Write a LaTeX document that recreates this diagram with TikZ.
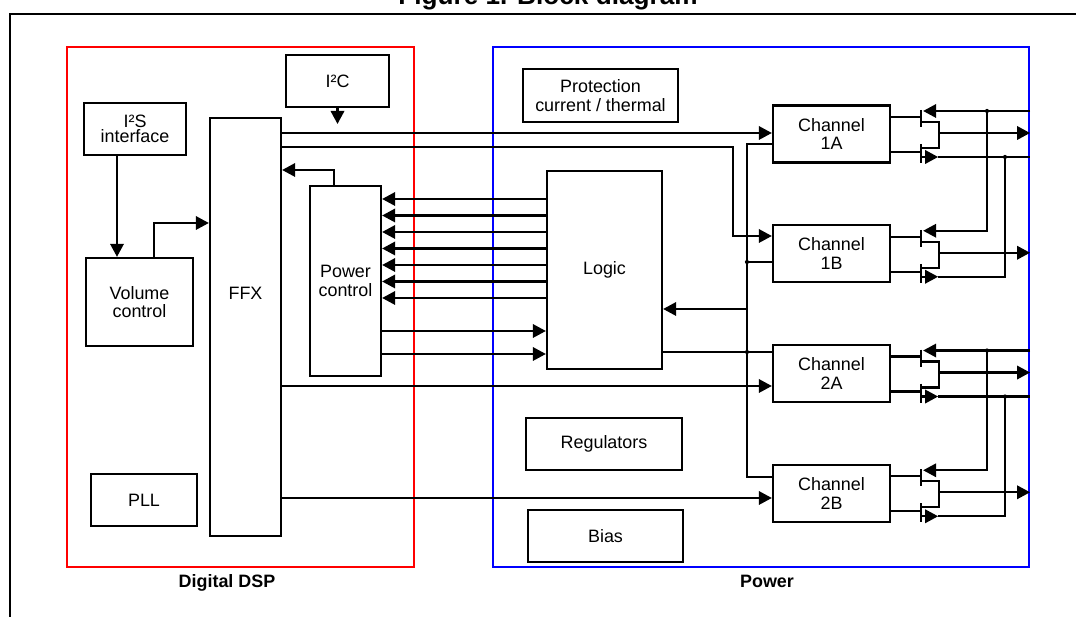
\documentclass[tikz,border=0pt]{standalone}
\usepackage{fontspec}
\setmainfont{Liberation Sans}
\usetikzlibrary{positioning,arrows.meta,calc}

\begin{document}
\begin{tikzpicture}[
    x=0.02cm, y=-0.02cm,
    line width=1.3pt,
    node distance=1.21cm,
    block/.style={rectangle, draw, inner sep=0pt, align=center, font=\fontsize{10.2}{10.6}\selectfont},
    group/.style={rectangle, draw, inner sep=0pt, minimum height=10.4cm},
    chan/.style={block, minimum width=2.34cm, minimum height=1.14cm},
    arrow/.style={-{Triangle[length=7.4pt,width=7.6pt]}},
    grouplabel/.style={anchor=base, font=\fontsize{10.2}{12}\selectfont\bfseries},
    every label/.style={font=\fontsize{10.2}{10.6}\selectfont}
]
\useasboundingbox (0,0) rectangle (1076,617);

% Page frame and caption
\coordinate (frametl) at (10,14);
\draw (frametl -| 1080,0) -- (frametl) -- (frametl |- 0,622);
\node[anchor=base, font=\fontsize{14.9}{16}\selectfont\bfseries] (title) at (548,5) {Figure 1. Block diagram};

% Groups
\node[group, draw=red, minimum width=6.94cm] (dsp) at (240.5,307) {};
\node[group, draw=blue, minimum width=10.72cm] (power) at (761,307) {};
\node[grouplabel] (dsplabel) at (227,588) {Digital DSP};
\node[grouplabel] (powerlabel) at (767,588) {Power};

% Digital DSP blocks
\node[block, minimum width=2.04cm, minimum height=1.04cm, font=\fontsize{10.2}{8.8}\selectfont] (i2s) at (135,129) {I²S\\interface};
\node[block, minimum width=2.06cm, minimum height=1.04cm] (i2c) at (337.5,81) {I²C};
\node[block, minimum width=2.14cm, minimum height=1.76cm] (vol) at (139.5,302) {Volume\\control};
\node[block, minimum width=2.12cm, minimum height=1.04cm] (pll) at (144,500) {PLL};
\node[block, minimum width=1.42cm, minimum height=8.36cm, label={[yshift=0.68cm]center:FFX}] (ffx) at (245.5,327) {};
\node[block, minimum width=1.42cm, minimum height=3.8cm] (pwr) at (345.5,281) {Power\\control};

% Power blocks
\node[block, minimum width=3.1cm, minimum height=1.06cm] (prot) at (600.5,95.5) {Protection\\current / thermal};
\node[block, minimum width=2.3cm, minimum height=3.96cm] (logic) at (604.5,270) {Logic};
\node[block, minimum width=3.12cm, minimum height=1.04cm] (reg) at (604,444) {Regulators};
\node[block, minimum width=3.1cm, minimum height=1.04cm] (bias) at (605.5,536) {Bias};

% Channels
\node[chan] (ch1a) at (831.5,134) {Channel\\1A};
\node[chan, below=of ch1a] (ch1b) {Channel\\1B};
\node[chan, below=of ch1b] (ch2a) {Channel\\2A};
\node[chan, below=of ch2a] (ch2b) {Channel\\2B};

% Digital DSP arrows
\coordinate (i2ctip) at (337.5,124);
\draw[arrow] (i2s.south -| 117,0) -- (vol.north -| 117,0);
\draw[arrow] (vol.north -| 154,0) |- (ffx.west |- 0,223);
\draw[arrow] (i2c.south) -- (i2ctip);
\draw[arrow] (pwr.north -| 334,0) |- (ffx.east |- 0,170);

% FFX to channels
\coordinate (ffxbend) at (733,236);
\draw[arrow] (ffx.east |- 0,133) -- (ch1a.west |- 0,133);
\draw[arrow] (ffx.east |- 0,147) -| (ffxbend) -- (ch1b.west |- ffxbend);
\draw[arrow] (ffx.east |- 0,386) -- (ch2a.west |- 0,386);
\draw[arrow] (ffx.east |- 0,498) -- (ch2b.west |- 0,498);

% Logic and power control
\foreach \yy in {199,215.5,232,248.5,265,281.5,298}
  \draw[arrow] (logic.west |- 0,\yy) -- (pwr.east |- 0,\yy);
\foreach \yy in {331,354}
  \draw[arrow] (pwr.east |- 0,\yy) -- (logic.west |- 0,\yy);

% Channel bus
\coordinate (bustop) at (747,144);
\coordinate (busbot) at (747,477);
\draw (ch1a.west |- bustop) -- (bustop) -- (busbot) -- (ch2b.west |- busbot);
\draw (bustop |- 0,262) -- (ch1b.west |- 0,262);
\draw[arrow] (bustop |- 0,309) -- (logic.east |- 0,309);
\draw (logic.east |- 0,352) -- (ch2a.west |- 0,352);
\fill (bustop |- 0,262) circle (1.2pt);
\fill (bustop |- 0,352) circle (1.2pt);

% Output stages
\foreach \ch in {ch1a,ch1b,ch2a,ch2b}{
  \coordinate (\ch-e) at (\ch.east);
  \coordinate (\ch-hs) at ($(\ch-e)+(32,-23)$);
  \coordinate (\ch-ls) at ($(\ch-e)+(47,23)$);
  \coordinate (\ch-out) at ($(\ch-e)+(48,-1)$);
  \draw (\ch-e) ++(0,-17) -- ++(30,0);
  \draw (\ch-e) ++(0,18) -- ++(30,0);
  \draw ($(\ch-e)+(30,-24)$) -- ++(0,17);
  \draw ($(\ch-e)+(30,10)$) -- ++(0,19);
  \draw ($(\ch-e)+(30,-12)$) -| ($(\ch-e)+(48,14)$) -- ++(-18,0);
  \draw[arrow] (\ch-out) -- (power.east |- \ch-out);
  \draw[arrow] ($(\ch-e)+(31,23)$) -- (\ch-ls);
}

% Supply rails
\draw[arrow] (power.east |- ch1a-hs) -- (ch1a-hs);
\draw (ch1a-ls) -- (power.east |- ch1a-ls);
\draw[arrow] (power.east |- ch2a-hs) -- (ch2a-hs);
\draw (ch2a-ls) -- (power.east |- ch2a-ls);
\draw[arrow] (ch1a-hs -| 987,0) |- (ch1b-hs);
\draw (ch1b-ls) -| (ch1a-ls -| 1005,0);
\draw[arrow] (ch2a-hs -| 987,0) |- (ch2b-hs);
\draw (ch2b-ls) -| (ch2a-ls -| 1005,0);
\fill (ch1a-hs -| 987,0) circle (1.2pt);
\fill (ch1a-ls -| 1005,0) circle (1.2pt);
\fill (ch2a-hs -| 987,0) circle (1.2pt);
\fill (ch2a-ls -| 1005,0) circle (1.2pt);

\end{tikzpicture}
\end{document}
